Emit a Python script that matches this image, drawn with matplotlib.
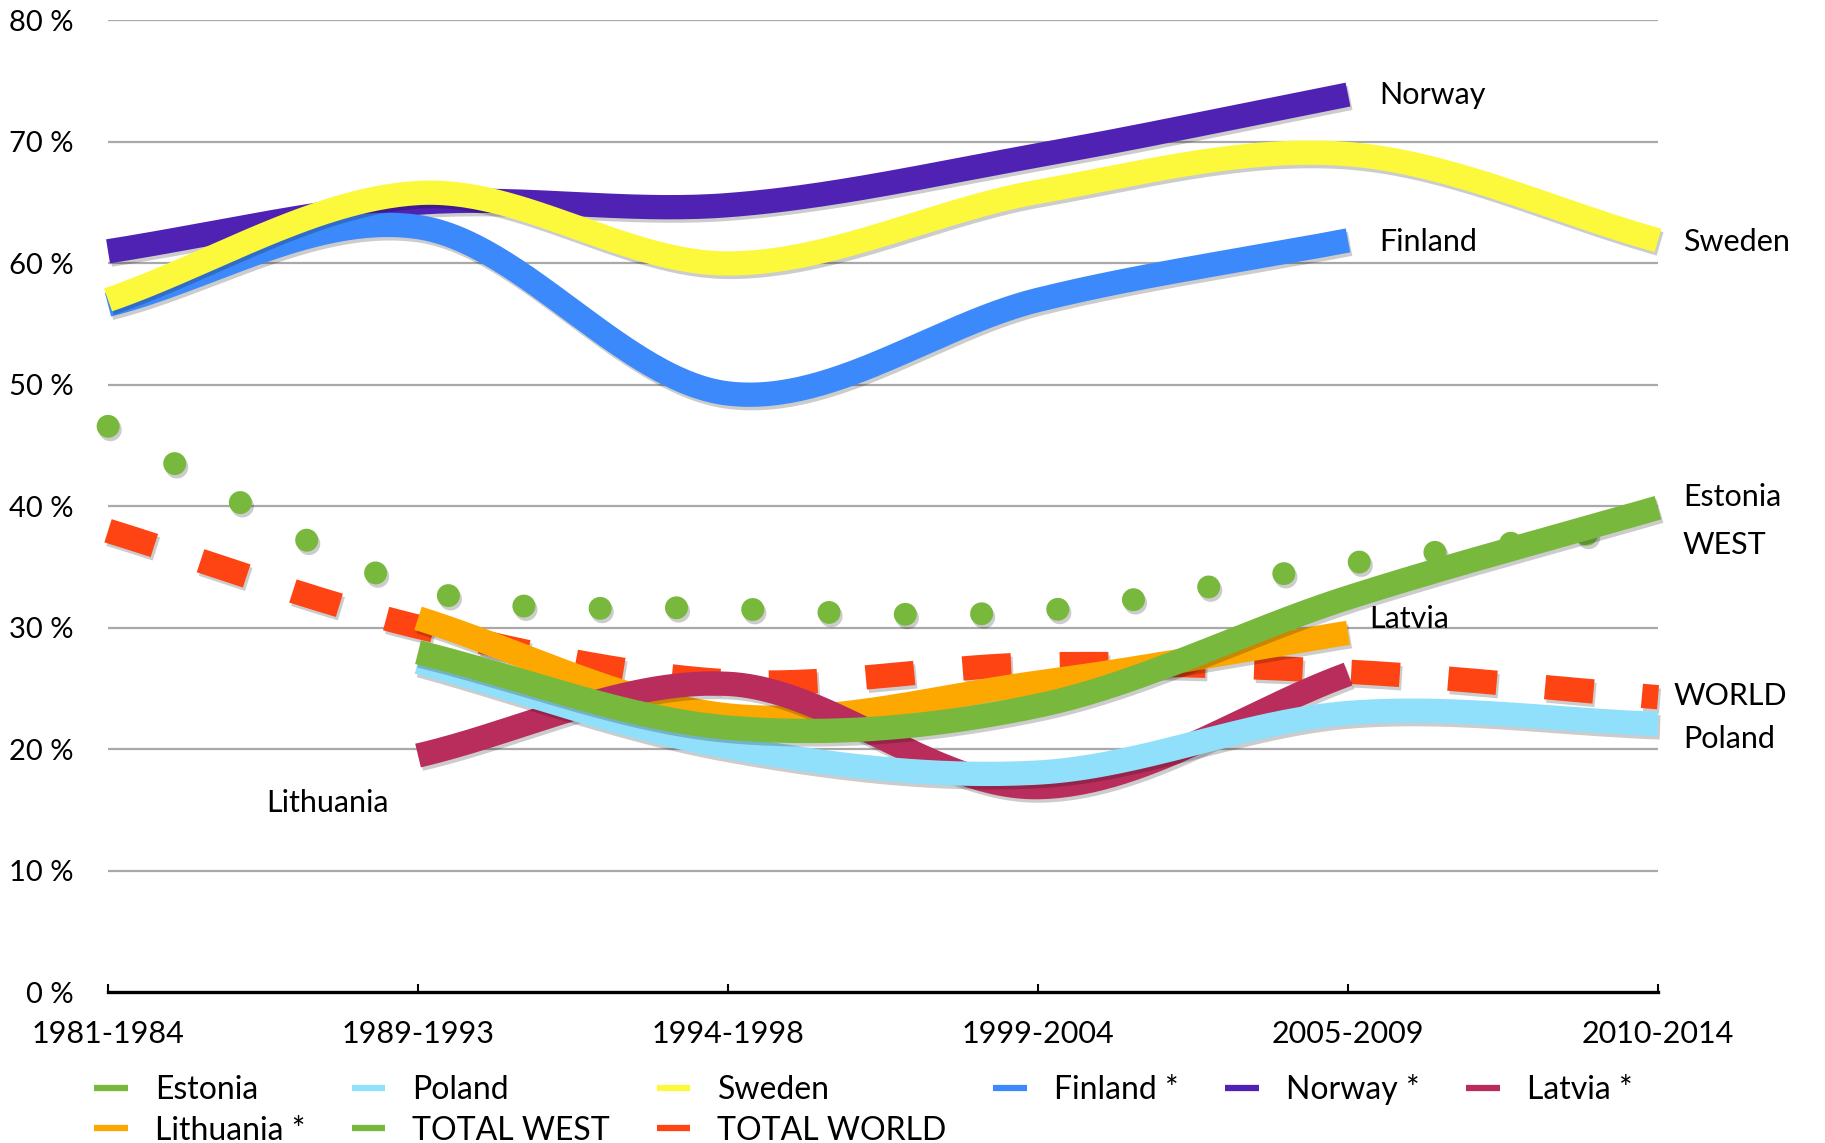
import numpy as np
import matplotlib
matplotlib.use("Agg")
import matplotlib.pyplot as plt
import matplotlib.patheffects as pe
from matplotlib.lines import Line2D

plt.rcParams['font.family'] = ['Lato', 'DejaVu Sans']

periods = ["1981-1984", "1989-1993", "1994-1998", "1999-2004", "2005-2009", "2010-2014"]
nan = np.nan
estonia   = [nan, 28.0, 21.8, 23.6, 32.5, 39.9]
poland    = [nan, 27.2, 20.2, 18.1, 23.0, 22.1]
sweden    = [57.0, 65.8, 60.0, 65.9, 69.0, 61.9]
finland   = [56.6, 63.0, 49.3, 57.0, 61.9, nan]
norway    = [61.0, 65.0, 64.8, 68.9, 73.9, nan]
latvia    = [nan, 19.5, 25.4, 16.9, 26.2, nan]
lithuania = [nan, 30.8, 22.8, 25.5, 29.6, nan]
total_west  = [46.6, 33.3, 31.6, 31.4, 35.3, 38.4]
total_world = [38.0, 30.1, 25.6, 27.0, 26.4, 24.3]

series = [
    ("Estonia", estonia, "#77b83d", "solid", 10),
    ("Poland", poland, "#90e0fb", "solid", 9),
    ("Sweden", sweden, "#fcf93d", "solid", 8),
    ("Finland *", finland, "#3c89fb", "solid", 7),
    ("Norway *", norway, "#5022b3", "solid", 6),
    ("Latvia *", latvia, "#b92d5d", "solid", 5),
    ("Lithuania *", lithuania, "#fda800", "solid", 4),
    ("TOTAL WEST", total_west, "#77b83d", "dot", 3),
    ("TOTAL WORLD", total_world, "#fd4412", "dash", 2),
]


def smooth(xs, ys, n=60):
    xs = np.asarray(xs, float)
    ys = np.asarray(ys, float)
    k = len(xs)
    m = np.zeros(k)
    for i in range(k):
        if i == 0:
            m[i] = (ys[1] - ys[0]) / (xs[1] - xs[0])
        elif i == k - 1:
            m[i] = (ys[-1] - ys[-2]) / (xs[-1] - xs[-2])
        else:
            m[i] = (ys[i + 1] - ys[i - 1]) / (xs[i + 1] - xs[i - 1])
    outx, outy = [], []
    for i in range(k - 1):
        h = xs[i + 1] - xs[i]
        t = np.linspace(0, 1, n, endpoint=(i == k - 2))
        h00 = 2 * t**3 - 3 * t**2 + 1
        h10 = t**3 - 2 * t**2 + t
        h01 = -2 * t**3 + 3 * t**2
        h11 = t**3 - t**2
        outx.append(xs[i] + t * h)
        outy.append(h00 * ys[i] + h10 * h * m[i] + h01 * ys[i + 1] + h11 * h * m[i + 1])
    return np.concatenate(outx), np.concatenate(outy)


fig = plt.figure(figsize=(18.25, 11.43), dpi=100)
ax = fig.add_axes([0.0592, 0.1317, 0.9085 - 0.0592, 0.9821 - 0.1317])

x = np.arange(len(periods))
shadow = [pe.SimpleLineShadow(offset=(1.5, -2.5), shadow_color='black', alpha=0.2), pe.Normal()]

LW = 17.5
for name, vals, color, style, z in series:
    v = np.asarray(vals, float)
    ok = ~np.isnan(v)
    sx, sy = smooth(x[ok], v[ok])
    if style == "solid":
        ax.plot(sx, sy, color=color, lw=LW, solid_capstyle='butt', zorder=z,
                clip_on=False, path_effects=shadow)
    elif style == "dot":
        ax.plot(sx, sy, color=color, lw=16.5, linestyle=(0, (0.01, 3.32)),
                dash_capstyle='round', zorder=z, clip_on=False, path_effects=shadow)
    else:
        ax.plot(sx, sy, color=color, lw=LW, linestyle=(0, (2.0, 2.0)),
                dash_capstyle='butt', zorder=z, clip_on=False, path_effects=shadow)

ax.set_xlim(0, 5)
ax.set_ylim(0, 80)
ax.set_yticks(np.arange(0, 81, 10))
ax.set_yticklabels([f"{t} %" for t in range(0, 81, 10)], fontsize=21)
ax.set_xticks(x)
ax.set_xticklabels(periods, fontsize=22)
ax.tick_params(axis='y', length=0, pad=25)
ax.tick_params(axis='x', direction='in', length=6, width=1.5, pad=20)
for s in ('top', 'right', 'left'):
    ax.spines[s].set_visible(False)
ax.spines['bottom'].set_linewidth(2.4)
ax.spines['bottom'].set_zorder(1)
for gy in range(10, 81, 10):
    ax.axhline(gy, color='#a9a9a9', lw=1.6, zorder=0)

labels = [
    ("Norway", 4.10, 73.9), ("Finland", 4.10, 61.8), ("Sweden", 5.08, 61.8),
    ("Estonia", 5.08, 40.8), ("WEST", 5.08, 36.8), ("Latvia", 4.07, 30.7),
    ("WORLD", 5.05, 24.4), ("Poland", 5.08, 20.9), ("Lithuania", 0.51, 15.6),
]
for txt, lx, ly in labels:
    ax.text(lx, ly, txt, fontsize=22, ha='left', va='center', zorder=20, clip_on=False)

order = ["Estonia", "Lithuania *", "Poland", "TOTAL WEST", "Sweden", "TOTAL WORLD",
         "Finland *", "Norway *", "Latvia *"]
cmap = {name: color for name, _, color, _, _ in series}
handles = [Line2D([0], [0], color=cmap[n], lw=4.5, solid_capstyle='butt') for n in order]
fig.legend(handles, order, ncol=6, loc='upper left', bbox_to_anchor=(0.0515, 0.060),
           frameon=False, fontsize=23, handlelength=1.05, handletextpad=0.85,
           columnspacing=1.46, labelspacing=0.32, borderpad=0, borderaxespad=0)

fig.savefig("out.png", dpi=100)
